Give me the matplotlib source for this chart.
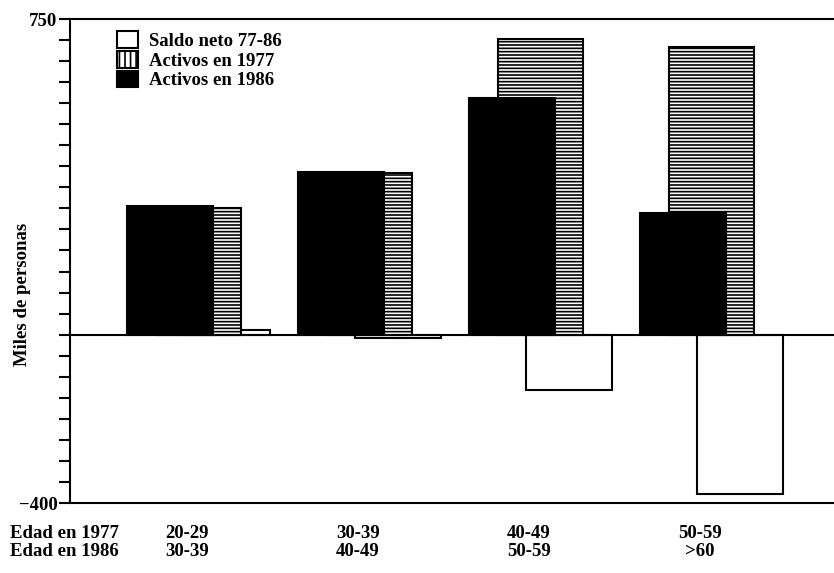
import matplotlib
matplotlib.use("Agg")
import matplotlib.pyplot as plt
from matplotlib.patches import Patch
from matplotlib.ticker import FixedLocator, FixedFormatter

plt.rcParams['font.family'] = ['Liberation Serif', 'DejaVu Serif']
plt.rcParams['font.weight'] = 'bold'
plt.rcParams['hatch.linewidth'] = 1.2

# data (miles de personas)
edad_1977 = ['20-29', '30-39', '40-49', '50-59']
edad_1986 = ['30-39', '40-49', '50-59', '>60']
activos_1977 = [300, 385, 702, 683]
activos_1986 = [305, 386, 562, 290]
saldo_neto = [10, -8, -131, -379]

fs = 13.5
fig = plt.figure(figsize=(8.34, 5.73), dpi=100)
ax = fig.add_axes([70 / 834, 70 / 573, 764 / 834, 484 / 573])

w = 1.0
x = [2 * i for i in range(len(edad_1977))]

ax.bar([xi + 2 * w / 3 for xi in x], saldo_neto, width=w, align='edge',
       facecolor='white', edgecolor='black', linewidth=1.5, zorder=2)
ax.bar([xi + w / 3 for xi in x], activos_1977, width=w, align='edge',
       facecolor='white', edgecolor='black', hatch='-----', linewidth=1.5, zorder=3)
ax.bar(x, activos_1986, width=w, align='edge',
       facecolor='black', edgecolor='black', linewidth=1.5, zorder=4)

ax.axhline(0, color='black', linewidth=1.5, zorder=5)

ax.set_xlim(-0.667, -0.667 + 764 / 85.5)
ax.set_ylim(-400, 750)

ticks = list(range(-400, 751, 50))
ax.yaxis.set_major_locator(FixedLocator(ticks))
ax.yaxis.set_major_formatter(FixedFormatter(
    ['\u2212400' if t == -400 else '750' if t == 750 else '' for t in ticks]))
ax.tick_params(axis='y', direction='out', length=8, width=1.5, labelsize=fs, pad=1)
ax.set_xticks([])

for s in ['left', 'top', 'bottom']:
    ax.spines[s].set_linewidth(1.5)
ax.spines['right'].set_visible(False)

fig.text(23 / 834, 1 - 294 / 573, 'Miles de personas', rotation=90,
         ha='center', va='center', fontsize=fs)

# group labels below the axis
y1 = 1 - 533 / 573
y2 = 1 - 552 / 573
fig.text(10 / 834, y1, 'Edad en 1977', fontsize=fs, va='center')
fig.text(10 / 834, y2, 'Edad en 1986', fontsize=fs, va='center')
for xi, a, b in zip(x, edad_1977, edad_1986):
    xp, _ = ax.transData.transform((xi + 0.7, 0))
    fig.text(xp / 834, y1, a, fontsize=fs, ha='center', va='center')
    fig.text(xp / 834, y2, b, fontsize=fs, ha='center', va='center')

handles = [
    Patch(facecolor='white', edgecolor='black', linewidth=1.5, label='Saldo neto 77-86'),
    Patch(facecolor='white', edgecolor='black', hatch='|||', linewidth=1.5, label='Activos en 1977'),
    Patch(facecolor='black', edgecolor='black', linewidth=1.5, label='Activos en 1986'),
]
ax.legend(handles=handles, loc='upper left', bbox_to_anchor=(47 / 764, 1 - 12 / 484),
          frameon=False, fontsize=fs, handlelength=1.1, handleheight=1.0,
          handletextpad=0.6, labelspacing=0.05, borderaxespad=0, borderpad=0)

fig.savefig('out.png', dpi=100)
